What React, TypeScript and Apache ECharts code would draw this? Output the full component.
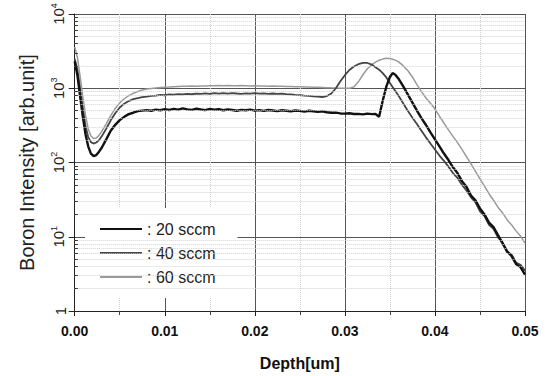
import React, { useEffect, useRef } from "react";
import * as echarts from "echarts";

const depth = [
  0, 0.0003, 0.0006, 0.0009, 0.0012, 0.0015, 0.0018, 0.0021, 0.0024, 0.0027, 0.003, 0.0035, 0.004, 0.0045, 0.005,
  0.0055, 0.006, 0.0065, 0.007, 0.0075, 0.008, 0.0085, 0.009, 0.0095, 0.01, 0.0105, 0.011, 0.0115, 0.012, 0.0125,
  0.013, 0.0135, 0.014, 0.0145, 0.015, 0.0155, 0.016, 0.0165, 0.017, 0.0175, 0.018, 0.0185, 0.019, 0.0195, 0.02,
  0.0205, 0.021, 0.0215, 0.022, 0.0225, 0.023, 0.0235, 0.024, 0.0245, 0.025, 0.0255, 0.026, 0.0265, 0.027, 0.0275,
  0.028, 0.0285, 0.029, 0.0295, 0.03, 0.0305, 0.031, 0.0315, 0.032, 0.0325, 0.033, 0.0334, 0.0338, 0.0342, 0.0346,
  0.035, 0.0353, 0.0356, 0.036, 0.0365, 0.037, 0.0375, 0.038, 0.0385, 0.039, 0.0395, 0.04, 0.0405, 0.041, 0.0415,
  0.042, 0.0425, 0.043, 0.0435, 0.044, 0.0445, 0.045, 0.0455, 0.046, 0.0465, 0.047, 0.0475, 0.048, 0.0485, 0.049,
  0.0495, 0.05,
];

const sccm20 = [
  2300, 1500, 780, 420, 240, 165, 132, 122, 126, 140, 158, 205, 268, 322, 372,
  412, 448, 468, 492, 500, 508, 498, 515, 505, 522, 510, 528, 516, 535, 520,
  512, 530, 518, 508, 525, 515, 522, 505, 518, 510, 498, 512, 505, 515, 500,
  508, 495, 510, 502, 492, 505, 498, 490, 502, 495, 485, 498, 490, 480, 488,
  475, 468, 470, 458, 455, 460, 450, 452, 445, 455, 448, 450, 412, 680, 1050,
  1420, 1600, 1520, 1320, 1050, 820, 640, 500, 395, 320, 255, 205, 165, 132, 108,
  86, 72, 56, 47, 36, 31, 24, 20, 15.5, 13.5, 10.5, 8.2, 6.4, 5.5, 4.3,
  3.9, 3.1,
];

const sccm40 = [
  2500, 1750, 980, 540, 310, 220, 188, 180, 186, 200, 225, 285, 370, 460, 550,
  620, 672, 712, 738, 758, 772, 790, 795, 812, 805, 825, 818, 835, 825, 842,
  830, 848, 838, 852, 840, 858, 845, 860, 848, 862, 850, 842, 855, 845, 858,
  848, 852, 840, 850, 838, 845, 832, 828, 815, 810, 798, 790, 778, 770, 762,
  785, 850, 1000, 1240, 1500, 1760, 1960, 2110, 2200, 2190, 2080, 1920, 1780, 1600, 1400,
  1180, 1040, 920, 780, 620, 495, 400, 330, 268, 218, 180, 150, 124, 105, 88,
  72, 62, 50, 42, 34, 29, 22, 19, 14.5, 12.8, 9.8, 8.4, 6.2, 5.8, 4.5,
  4.2, 3.5,
];

const sccm60 = [
  3600, 2600, 1450, 780, 430, 285, 228, 210, 214, 232, 262, 332, 428, 535, 635,
  722, 795, 855, 905, 945, 975, 995, 1010, 1025, 1035, 1042, 1050, 1055, 1060, 1065,
  1070, 1068, 1075, 1072, 1080, 1078, 1085, 1080, 1088, 1082, 1078, 1085, 1080, 1075, 1078,
  1072, 1075, 1068, 1070, 1065, 1062, 1058, 1055, 1050, 1048, 1042, 1040, 1035, 1030, 1025,
  1018, 1012, 1008, 1002, 998, 1000, 1040, 1220, 1520, 1830, 2080, 2250, 2380, 2470, 2530,
  2510, 2460, 2390, 2250, 2000, 1720, 1420, 1120, 900, 740, 630, 525, 420, 340, 275,
  225, 185, 150, 120, 96, 76, 60, 48, 38, 31, 25, 21, 17, 14.5, 12,
  10.2, 8.2,
];

const seriesNames = ["20 sccm", "40 sccm", "60 sccm"];
const minorLogTicks = [
  2, 3, 4, 5, 6, 7, 8, 9, 20, 30, 40, 50, 60, 70, 80, 90, 200, 300, 400, 500, 600, 700, 800, 900,
  2000, 3000, 4000, 5000, 6000, 7000, 8000, 9000,
];

const FONT = "Arial, 'Liberation Sans', Helvetica, sans-serif";
const COLORS = ["#111111", "#454545", "#9a9a9a"];

export default function App() {
  const ref = useRef<HTMLDivElement>(null);
  useEffect(() => {
    document.body.style.margin = "0";
    if (!ref.current) return;
    const chart = echarts.init(ref.current, undefined, { renderer: "svg" });
    const pairs = (vals: number[]) => depth.map((d, i) => [d, vals[i]]);
    const gridLines = minorLogTicks.map((v) => ({ yAxis: v }));
    const tickSegs = minorLogTicks.map((v) => [{ coord: [0, v] }, { coord: [0.00035, v] }]);
    chart.setOption({
      animation: false,
      backgroundColor: "#ffffff",
      textStyle: { fontFamily: FONT },
      grid: { left: 74.7, right: 25, top: 14, bottom: 61.7, containLabel: false },
      legend: {
        data: seriesNames.map((n, i) => ({ name: n, icon: "rect", itemStyle: { color: COLORS[i] } })),
        orient: "vertical",
        left: 85,
        top: 208,
        backgroundColor: "#ffffff",
        padding: [12, 22, 12, 15],
        itemWidth: 42,
        itemHeight: 2,
        itemGap: 6,
        formatter: (n: string) => ": " + n,
        textStyle: { fontSize: 16, lineHeight: 18, color: "#222", fontFamily: FONT },
      },
      xAxis: {
        type: "value",
        min: 0,
        max: 0.05,
        interval: 0.01,
        name: "Depth[um]",
        nameLocation: "middle",
        nameGap: 44,
        nameTextStyle: { fontSize: 16, fontWeight: "bold", color: "#111", fontFamily: FONT },
        axisLine: { show: true, lineStyle: { color: "#222", width: 1 } },
        axisTick: { show: true, length: 5, lineStyle: { color: "#222" } },
        minorTick: { show: true, splitNumber: 2, length: 4, lineStyle: { color: "#444" } },
        axisLabel: {
          margin: 13,
          fontSize: 14,
          fontWeight: "bold",
          color: "#111",
          fontFamily: FONT,
          formatter: (v: number) => v.toFixed(2),
        },
        splitLine: { show: true, lineStyle: { color: "#555", width: 1 } },
        minorSplitLine: { show: true, lineStyle: { color: "#cfcfcf", type: "dotted", width: 1 } },
      },
      yAxis: {
        type: "log",
        logBase: 10,
        min: 1,
        max: 10000,
        name: "Boron Intensity [arb.unit]",
        nameLocation: "middle",
        nameGap: 38,
        nameRotate: 90,
        nameTextStyle: { fontSize: 20, color: "#222", fontFamily: FONT },
        axisLine: { show: true, lineStyle: { color: "#222", width: 1 } },
        axisTick: { show: true, length: 6, lineStyle: { color: "#222" } },
        axisLabel: {
          rotate: 90,
          margin: 7,
          fontSize: 15,
          color: "#222",
          fontFamily: FONT,
          formatter: (v: number) => {
            const e = Math.round(Math.log10(v));
            return e === 0 ? "1" : "10{sup|" + e + "}";
          },
          rich: {
            sup: { fontSize: 9, verticalAlign: "top", lineHeight: 18, color: "#222", fontFamily: FONT },
          },
        },
        splitLine: { show: true, lineStyle: { color: "#555", width: 1 } },
      },
      series: [
        {
          name: "grid-minor",
          type: "line",
          data: [],
          silent: true,
          markLine: {
            silent: true,
            symbol: "none",
            label: { show: false },
            lineStyle: { color: "#d2d2d2", type: "dotted", width: 1 },
            data: gridLines,
          },
        },
        {
          name: "tick-minor",
          type: "line",
          data: [],
          silent: true,
          markLine: {
            silent: true,
            symbol: "none",
            label: { show: false },
            lineStyle: { color: "#333", type: "solid", width: 1 },
            data: tickSegs,
          },
        },
        {
          name: seriesNames[2],
          type: "line",
          data: pairs(sccm60),
          symbol: "none",
          lineStyle: { color: COLORS[2], width: 1.5 },
          itemStyle: { color: COLORS[2] },
        },
        {
          name: seriesNames[1],
          type: "line",
          data: pairs(sccm40),
          symbol: "none",
          lineStyle: { color: COLORS[1], width: 1.8 },
          itemStyle: { color: COLORS[1] },
        },
        {
          name: seriesNames[0],
          type: "line",
          data: pairs(sccm20),
          symbol: "none",
          lineStyle: { color: COLORS[0], width: 2.4 },
          itemStyle: { color: COLORS[0] },
        },
      ],
    });
    return () => chart.dispose();
  }, []);
  return <div ref={ref} style={{ width: 550, height: 376 }} />;
}
